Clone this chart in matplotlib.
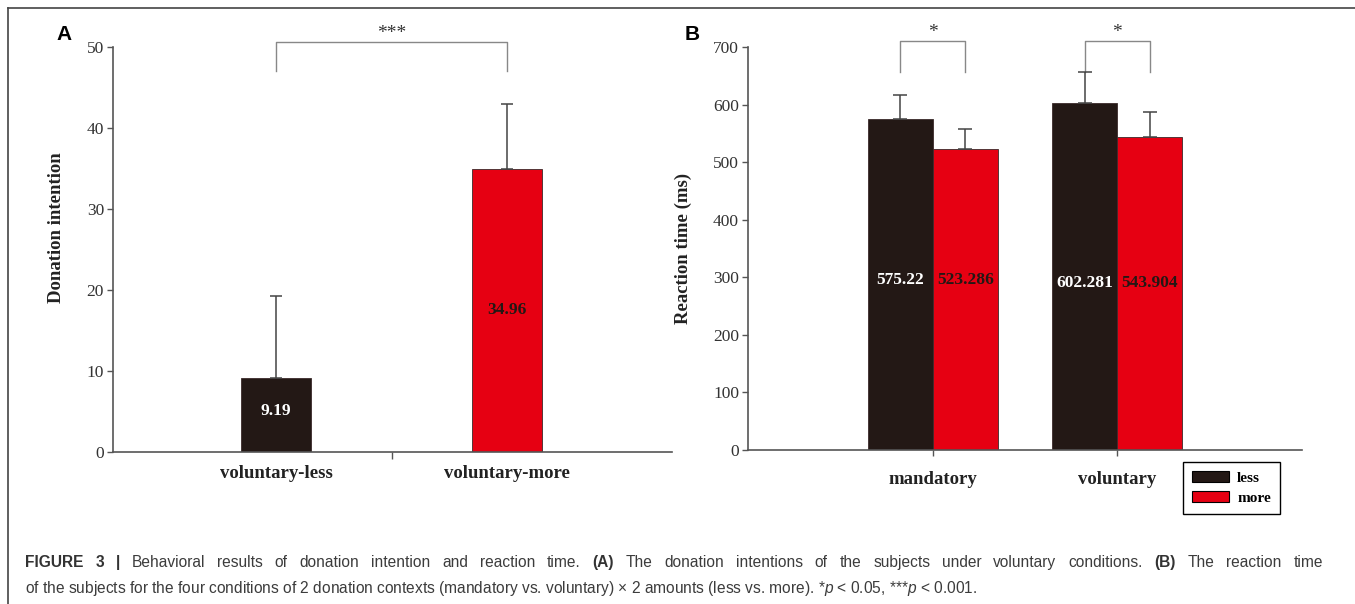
import matplotlib
matplotlib.use("Agg")
import matplotlib.pyplot as plt
from matplotlib.patches import Patch
from matplotlib.lines import Line2D

# panel A data
a_labels = ["voluntary-less", "voluntary-more"]
a_means = [9.19, 34.96]
a_err = [10.07, 8.04]

# panel B data
b_groups = ["mandatory", "voluntary"]
b_less = [575.22, 602.281]
b_more = [523.286, 543.904]
b_less_err = [41.4, 54.3]
b_more_err = [34.3, 42.7]
b_series = ["less", "more"]

BLACK = "#231815"
RED = "#e60012"
AXC = "#555555"
TXT = "#333333"
SERIF = "Liberation Serif"
SANS = "Liberation Sans"
CAP = "#3c3c3c"

plt.rcParams["mathtext.fontset"] = "custom"
plt.rcParams["mathtext.rm"] = SANS
plt.rcParams["mathtext.it"] = SANS + ":italic"
plt.rcParams["mathtext.bf"] = SANS + ":bold"

W, H = 1355, 604
fig = plt.figure(figsize=(W / 100, H / 100), dpi=100)


def box(l, t, r, b):
    return [l / W, 1 - b / H, (r - l) / W, (b - t) / H]


def style_axes(ax):
    for s in ["top", "right"]:
        ax.spines[s].set_visible(False)
    for s in ["left", "bottom"]:
        ax.spines[s].set_color(AXC)
        ax.spines[s].set_linewidth(1.2)
    ax.tick_params(axis="y", direction="out", length=4.5, width=1.0, color=AXC,
                   labelsize=12.5, labelcolor=TXT, pad=2)
    for t in ax.get_yticklabels():
        t.set_fontfamily(SERIF)


def bracket(ax, x0, x1, ytop, ybot, label):
    ax.plot([x0, x0, x1, x1], [ybot, ytop, ytop, ybot], color="#888888",
            lw=1.0, clip_on=False)
    ax.text((x0 + x1) / 2, ytop, label, ha="center", va="bottom",
            fontsize=14, family=SERIF, color=TXT, clip_on=False)


# ---------- panel A ----------
axA = fig.add_axes(box(113, 47, 672, 452))
xa = [0, 1]
axA.bar(xa, a_means, width=0.30, color=[BLACK, RED], edgecolor="#3a2a2a",
        linewidth=0.6, zorder=2)
axA.errorbar(xa, a_means, yerr=[[0, 0], a_err], fmt="none", ecolor="#444444",
             elinewidth=1.1, capsize=4.5, capthick=1.1, zorder=3)
axA.set_xlim(-0.706, 1.714)
axA.set_ylim(0, 50)
axA.set_yticks(range(0, 51, 10))
axA.set_xticks(xa)
axA.set_xticklabels(a_labels, fontsize=13.5, fontweight="bold", family=SERIF,
                    color="#222222")
axA.tick_params(axis="x", length=0, pad=9)
axA.set_xticks([0.5], minor=True)
axA.tick_params(axis="x", which="minor", length=5, width=1.0, color=AXC)
style_axes(axA)
axA.set_ylabel("Donation intention", fontsize=13.5, fontweight="bold",
               family=SERIF, color="#222222")
axA.yaxis.set_label_coords(-0.086, 0.553)
axA.text(xa[0], a_means[0] / 2 + 0.5, f"{a_means[0]:.2f}", ha="center",
         va="center", color="white", fontsize=12.5, fontweight="bold", family=SERIF)
axA.text(xa[1], a_means[1] / 2, f"{a_means[1]:.2f}", ha="center",
         va="center", color=BLACK, fontsize=12.5, fontweight="bold", family=SERIF)
bracket(axA, xa[0], xa[1], 50.6, 47.0, "***")

# ---------- panel B ----------
axB = fig.add_axes(box(748, 47, 1302, 450))
w = 0.353
xb = [0, 1]
x_less = [x - w / 2 for x in xb]
x_more = [x + w / 2 for x in xb]
axB.bar(x_less, b_less, width=w, color=BLACK, edgecolor="#3a2a2a",
        linewidth=0.6, zorder=2, label=b_series[0])
axB.bar(x_more, b_more, width=w, color=RED, edgecolor="#3a2a2a",
        linewidth=0.6, zorder=2, label=b_series[1])
axB.errorbar(x_less, b_less, yerr=[[0, 0], b_less_err], fmt="none",
             ecolor="#444444", elinewidth=1.1, capsize=5, capthick=1.1, zorder=3)
axB.errorbar(x_more, b_more, yerr=[[0, 0], b_more_err], fmt="none",
             ecolor="#444444", elinewidth=1.1, capsize=5, capthick=1.1, zorder=3)
axB.set_xlim(-1.005, 2.005)
axB.set_ylim(0, 700)
axB.set_yticks(range(0, 701, 100))
axB.set_xticks(xb)
axB.set_xticklabels(b_groups, fontsize=13.5, fontweight="bold", family=SERIF,
                    color="#222222")
axB.tick_params(axis="x", direction="out", length=4, width=1.0, color=AXC, pad=11)
style_axes(axB)
axB.set_ylabel("Reaction time (ms)", fontsize=13.5, fontweight="bold",
               family=SERIF, color="#222222")
axB.yaxis.set_label_coords(-0.101, 0.50)
for i in range(len(xb)):
    yt = 295 - 5 * i
    axB.text(x_less[i], yt, f"{b_less[i]:g}", ha="center", va="center",
             color="white", fontsize=12.5, fontweight="bold", family=SERIF)
    axB.text(x_more[i], yt, f"{b_more[i]:g}", ha="center", va="center",
             color=BLACK, fontsize=12.5, fontweight="bold", family=SERIF)
    bracket(axB, x_less[i], x_more[i], 710, 657, "*")

handles = [Patch(facecolor=BLACK, edgecolor="black", linewidth=0.8),
           Patch(facecolor=RED, edgecolor="black", linewidth=0.8)]
leg = fig.legend(handles, b_series, loc="upper left",
                 bbox_to_anchor=(1183 / W, 1 - 462 / H), frameon=True,
                 fancybox=False, edgecolor="black", framealpha=1,
                 prop={"family": SERIF, "weight": "bold", "size": 11},
                 handlelength=2.4, handleheight=0.7, handletextpad=0.55,
                 borderpad=0.6, labelspacing=0.4, borderaxespad=0)
leg.get_frame().set_linewidth(1.0)

# panel letters
fig.text(64 / W, 1 - 35 / H, "A", fontsize=15, fontweight="bold",
         family=SANS, ha="center", va="center", color="black")
fig.text(692 / W, 1 - 35 / H, "B", fontsize=15, fontweight="bold",
         family=SANS, ha="center", va="center", color="black")

# frame lines
fig.add_artist(Line2D([8 / W, 1], [1 - 8 / H, 1 - 8 / H], color="#444444", lw=1.2))
fig.add_artist(Line2D([8 / W, 8 / W], [0, 1 - 8 / H], color="#444444", lw=1.2))

# caption: first line is justified, second line is left aligned
cap_size = 11.2
bold_words = {"FIGURE", "3", "|", "(A)", "(B)"}
line1 = ("FIGURE 3 | Behavioral results of donation intention and reaction time. "
         "(A) The donation intentions of the subjects under voluntary conditions. "
         "(B) The reaction time")
words = []
for k, wd in enumerate(line1.split()):
    bold = wd in bold_words and (k < 3 or wd.startswith("("))
    words.append(fig.text(0, 1 - 567 / H, wd, fontsize=cap_size, family=SANS,
                          fontweight="bold" if bold else "normal",
                          color="#333333" if bold else CAP, ha="left",
                          va="baseline"))
renderer = fig.canvas.get_renderer()
widths = [t.get_window_extent(renderer).width for t in words]
x0, x1 = 25, 1323
gap = (x1 - x0 - sum(widths)) / (len(words) - 1)
x = x0
for t, wdt in zip(words, widths):
    t.set_x(x / W)
    x += wdt + gap

line2 = (r"of the subjects for the four conditions of 2 donation contexts "
         r"(mandatory vs. voluntary) × 2 amounts (less vs. more). "
         r"*$\mathit{p}$ < 0.05, ***$\mathit{p}$ < 0.001.")
fig.text(25 / W, 1 - 593 / H, line2, fontsize=cap_size, family=SANS,
         color=CAP, ha="left", va="baseline")

fig.savefig("out.png", dpi=100)
